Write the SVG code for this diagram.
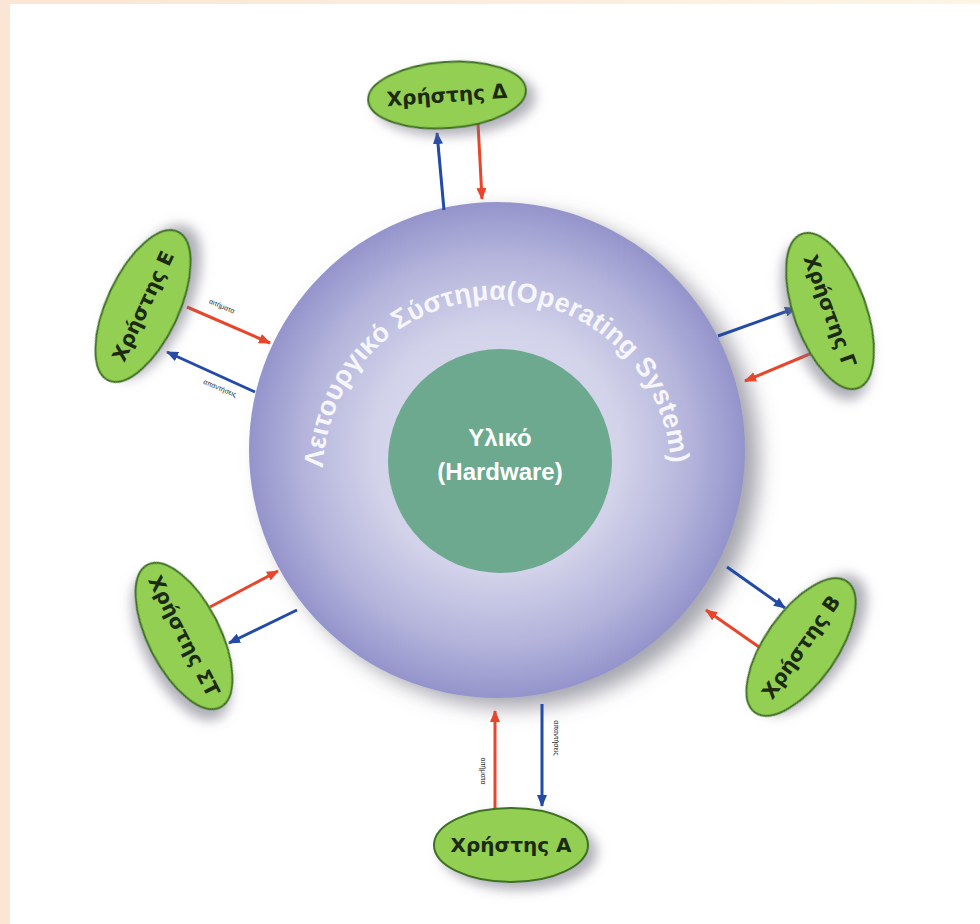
<svg xmlns="http://www.w3.org/2000/svg" width="980" height="924" viewBox="0 0 980 924">
<defs>
<radialGradient id="osg" cx="50%" cy="50%" r="50%">
<stop offset="0" stop-color="#dedef0"/>
<stop offset="0.5" stop-color="#d2d2ea"/>
<stop offset="0.78" stop-color="#b4b4dc"/>
<stop offset="1" stop-color="#9494cc"/>
</radialGradient>
<linearGradient id="topg" x1="0" y1="0" x2="1" y2="0">
<stop offset="0" stop-color="#fbe5d3"/>
<stop offset="1" stop-color="#fdf4e6"/>
</linearGradient>
<filter id="sh" x="-30%" y="-30%" width="160%" height="160%">
<feGaussianBlur in="SourceAlpha" stdDeviation="10"/>
<feOffset dx="14" dy="10" result="b"/>
<feFlood flood-color="#6a6a7a" flood-opacity="0.6"/>
<feComposite in2="b" operator="in"/>
<feMerge><feMergeNode/><feMergeNode in="SourceGraphic"/></feMerge>
</filter>
<filter id="esh" x="-40%" y="-40%" width="180%" height="180%">
<feGaussianBlur in="SourceAlpha" stdDeviation="6"/>
<feOffset dx="8" dy="7" result="b"/>
<feFlood flood-color="#707080" flood-opacity="0.55"/>
<feComposite in2="b" operator="in"/>
<feMerge><feMergeNode/><feMergeNode in="SourceGraphic"/></feMerge>
</filter>
<marker id="ar" viewBox="0 0 12 10" refX="11" refY="5" markerWidth="12" markerHeight="10" markerUnits="userSpaceOnUse" orient="auto">
<path d="M0,0 L12,5 L0,10 z" fill="#e8452a"/>
</marker>
<marker id="ab" viewBox="0 0 12 10" refX="11" refY="5" markerWidth="12" markerHeight="10" markerUnits="userSpaceOnUse" orient="auto">
<path d="M0,0 L12,5 L0,10 z" fill="#234aa8"/>
</marker>
<path id="osarc" d="M 323.1 467.9 A 174 174 0 0 1 670.9 467.9" fill="none"/>
</defs>
<style>
.user ellipse{fill:#93cf52;stroke:#3f6f22;stroke-width:2}
.user text{font-family:"DejaVu Sans","Liberation Sans",sans-serif;font-weight:bold;font-size:20px;fill:#1c2a12;text-anchor:middle;dominant-baseline:central}
.req{stroke:#e8452a;stroke-width:3;fill:none;marker-end:url(#ar)}
.res{stroke:#234aa8;stroke-width:3;fill:none;marker-end:url(#ab)}
.lbl{font-family:"Liberation Sans",sans-serif;font-size:7px;fill:#222;text-anchor:middle;dominant-baseline:central}
.ostxt{font-family:"Liberation Sans",sans-serif;font-weight:bold;font-size:27px;fill:#f6f6fc}
.hw{font-family:"Liberation Sans",sans-serif;font-weight:bold;font-size:24px;fill:#ffffff;text-anchor:middle}
</style>
<rect x="0" y="0" width="980" height="924" fill="#ffffff"/>
<rect x="0" y="0" width="980" height="4" fill="url(#topg)"/>
<rect x="0" y="0" width="10" height="924" fill="#fbe5d4"/>

<g id="os">
<circle cx="497" cy="450" r="248" fill="url(#osg)" filter="url(#sh)"/>
<text class="ostxt"><textPath href="#osarc" textLength="530" lengthAdjust="spacing">Λειτουργικό Σύστημα(Operating System)</textPath></text>
</g>
<g id="hardware">
<circle cx="500" cy="461" r="112" fill="#6ca98f"/>
<text class="hw" x="500" y="446">Υλικό</text>
<text class="hw" x="500" y="480">(Hardware)</text>
</g>

<g id="connectors">
<line class="res" x1="444" y1="210" x2="437" y2="133"/>
<line class="req" x1="478" y1="123" x2="482" y2="199"/>
<line class="req" x1="187" y1="307" x2="270" y2="343"/>
<line class="res" x1="255" y1="392" x2="167" y2="352"/>
<line class="res" x1="718" y1="336" x2="796" y2="308"/>
<line class="req" x1="812" y1="353" x2="745" y2="381"/>
<line class="res" x1="727" y1="567" x2="785" y2="608"/>
<line class="req" x1="759" y1="647" x2="706" y2="610"/>
<line class="req" x1="210" y1="607" x2="278" y2="571"/>
<line class="res" x1="297" y1="610" x2="229" y2="643"/>
<line class="req" x1="495" y1="812" x2="495" y2="711"/>
<line class="res" x1="542" y1="704" x2="542" y2="806"/>
<text class="lbl" transform="translate(222,306) rotate(23)">αιτήματα</text>
<text class="lbl" transform="translate(220,388) rotate(23)">απαντήσεις</text>
<text class="lbl" transform="translate(483,771) rotate(90)">αιτήματα</text>
<text class="lbl" transform="translate(556,738) rotate(90)">απαντήσεις</text>
</g>

<g id="user-d" class="user" transform="translate(447,95) rotate(-4)">
<ellipse rx="79" ry="33" filter="url(#esh)"/>
<text y="0">Χρήστης Δ</text>
</g>
<g id="user-e" class="user" transform="translate(143,306) rotate(-65)">
<ellipse rx="82" ry="36" filter="url(#esh)"/>
<text y="0">Χρήστης Ε</text>
</g>
<g id="user-g" class="user" transform="translate(830,311) rotate(70)">
<ellipse rx="82" ry="36" filter="url(#esh)"/>
<text y="0">Χρήστης Γ</text>
</g>
<g id="user-b" class="user" transform="translate(801,647) rotate(-55)">
<ellipse rx="80" ry="36" filter="url(#esh)"/>
<text y="0">Χρήστης Β</text>
</g>
<g id="user-st" class="user" transform="translate(184,636) rotate(63)">
<ellipse rx="80" ry="36" filter="url(#esh)"/>
<text y="0">Χρήστης ΣΤ</text>
</g>
<g id="user-a" class="user" transform="translate(511,845)">
<ellipse rx="77" ry="37" filter="url(#esh)"/>
<text y="0">Χρήστης Α</text>
</g>
</svg>
